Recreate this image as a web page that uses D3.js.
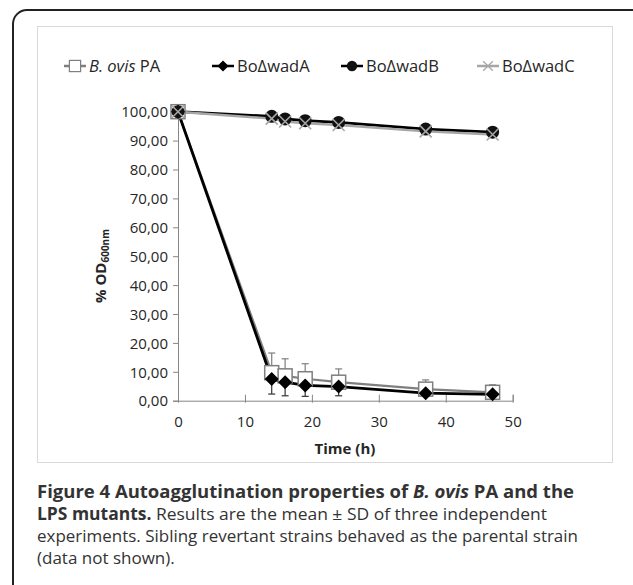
<html>
<script src='https://d3js.org/d3.v7.min.js'></script>
<style>
body {margin: 0; background: white;}
text {font-family: 'Open Sans', sans-serif;}
.tick text {font-size: 15px; fill: #262626;}
.cap {font-size: 17px; fill: #333;}
</style>
<body>
<svg width=633 height=585></svg>
<script>
// time points (h)
var time = [0, 14, 16, 19, 24, 37, 47];
var pa = [100, 9.7, 8.6, 7.6, 6.4, 4.0, 2.9];
var paSd = [0, 6.8, 5.9, 5.2, 4.6, 3.2, 2.6];
var wadA = [100, 7.5, 6.4, 5.3, 4.9, 2.6, 2.2];
var wadASd = [0, 5.2, 4.7, 3.8, 3.2, 1.0, 0.8];
var wadB = [100, 98.4, 97.5, 96.9, 96.3, 94.0, 92.9];
var wadC = [100, 97.6, 96.6, 96.0, 95.4, 93.2, 92.1];
var yTicks = [0, 10, 20, 30, 40, 50, 60, 70, 80, 90, 100];
var xTicks = [0, 10, 20, 30, 40, 50];

var svg = d3.select("svg");

// outer frame + chart box
svg.append("rect").attr("x", 13).attr("y", 10).attr("width", 660).attr("height", 620)
    .attr("rx", 14).attr("fill", "none").attr("stroke", "#222").attr("stroke-width", 2);
svg.append("rect").attr("x", 37.5).attr("y", 26.5).attr("width", 575).attr("height", 436)
    .attr("fill", "white").attr("stroke", "#d9d9d9").attr("stroke-width", 1);

var x = d3.scaleLinear().domain([0, 50]).range([178, 512.7]);
var y = d3.scaleLinear().domain([0, 100]).range([400.7, 111.7]);

// axes
var yAxis = svg.append("g").attr("transform", "translate(178,0)")
    .call(d3.axisLeft(y).tickValues(yTicks).tickSize(5).tickPadding(5)
        .tickFormat(function(d) { return d3.format(".2f")(d).replace(".", ","); }));
var xAxis = svg.append("g").attr("transform", "translate(0,400.7)")
    .call(d3.axisBottom(x).tickValues(xTicks).tickSize(-6).tickPadding(16));
svg.selectAll(".domain").attr("stroke", "#868686");
svg.selectAll(".tick line").attr("stroke", "#868686");
xAxis.selectAll(".tick line").attr("y2", -6).attr("y1", 2);
yAxis.selectAll(".tick text").attr("dy", "0.35em");

svg.append("text").attr("x", 345).attr("y", 454).attr("text-anchor", "middle")
    .attr("font-size", 15).attr("font-weight", "bold").attr("fill", "#262626").text("Time (h)");
var yt = svg.append("text").attr("transform", "translate(106,266) rotate(-90)")
    .attr("text-anchor", "middle").attr("font-size", 15).attr("font-weight", "bold").attr("fill", "#262626");
yt.append("tspan").text("% OD");
yt.append("tspan").attr("font-size", 10).attr("dy", 3).text("600nm");

var line = d3.line().x(function(d, i) { return x(time[i]); }).y(function(d) { return y(d); });

// series
var series = [
  {name: "pa", vals: pa, color: "#7f7f7f", width: 2.2},
  {name: "wadA", vals: wadA, color: "#000", width: 2.8},
  {name: "wadB", vals: wadB, color: "#000", width: 2.8},
  {name: "wadC", vals: wadC, color: "#a6a6a6", width: 2.4}
];

function marker(g, name, cx, cy) {
  if (name == "pa") {
    g.append("rect").attr("x", cx - 7).attr("y", cy - 7).attr("width", 14).attr("height", 14)
      .attr("fill", "white").attr("stroke", "#7f7f7f").attr("stroke-width", 1.5);
  } else if (name == "wadA") {
    g.append("path").attr("d", "M" + cx + "," + (cy - 7) + "L" + (cx + 7) + "," + cy + "L" + cx + "," + (cy + 7) + "L" + (cx - 7) + "," + cy + "Z")
      .attr("fill", "#000");
  } else if (name == "wadB") {
    g.append("circle").attr("cx", cx).attr("cy", cy).attr("r", 6.5).attr("fill", "#111");
  } else {
    g.append("path").attr("d", "M" + (cx - 6) + "," + (cy - 6) + "L" + (cx + 6) + "," + (cy + 6) + "M" + (cx + 6) + "," + (cy - 6) + "L" + (cx - 6) + "," + (cy + 6))
      .attr("stroke", "#a6a6a6").attr("stroke-width", 1.6);
  }
}

// error bars
function errBar(vals, sd, dir, color) {
  var g = svg.append("g").attr("stroke", color).attr("stroke-width", 1.2);
  vals.forEach(function(v, i) {
    if (sd[i] == 0) return;
    var e = v + dir * sd[i];
    g.append("line").attr("x1", x(time[i])).attr("x2", x(time[i])).attr("y1", y(v)).attr("y2", y(e));
    g.append("line").attr("x1", x(time[i]) - 3.5).attr("x2", x(time[i]) + 3.5).attr("y1", y(e)).attr("y2", y(e));
  });
}
errBar(pa, paSd, 1, "#7f7f7f");
errBar(wadA, wadASd, -1, "#333");

series.forEach(function(s) {
  svg.append("path").attr("d", line(s.vals)).attr("fill", "none")
    .attr("stroke", s.color).attr("stroke-width", s.width);
});
series.forEach(function(s) {
  var g = svg.append("g");
  s.vals.forEach(function(v, i) { marker(g, s.name, x(time[i]), y(v)); });
});

// legend
var legend = [
  {name: "pa", x: 64, color: "#7f7f7f"},
  {name: "wadA", x: 212, color: "#000"},
  {name: "wadB", x: 341, color: "#000"},
  {name: "wadC", x: 477, color: "#a6a6a6"}
];
var labels = {wadA: "BoΔwadA", wadB: "BoΔwadB", wadC: "BoΔwadC"};
legend.forEach(function(l) {
  var g = svg.append("g");
  g.append("line").attr("x1", l.x).attr("x2", l.x + 22).attr("y1", 66).attr("y2", 66)
    .attr("stroke", l.color).attr("stroke-width", 2.5);
  var m = g.append("g").attr("transform", "translate(" + (l.x + 11) + ",66) scale(0.8) translate(" + -(l.x + 11) + ",-66)");
  marker(m, l.name, l.x + 11, 66);
  var t = g.append("text").attr("x", l.x + 25).attr("y", 72).attr("font-size", 16.5).attr("fill", "#262626");
  if (l.name == "pa") {
    t.append("tspan").attr("font-style", "italic").text("B. ovis");
    t.append("tspan").text(" PA");
  } else {
    t.text(labels[l.name]);
  }
});

// caption
var c1 = svg.append("text").attr("class", "cap").attr("x", 37).attr("y", 498)
    .attr("font-weight", "bold").attr("textLength", 537).attr("lengthAdjust", "spacingAndGlyphs");
c1.append("tspan").text("Figure 4 Autoagglutination properties of ");
c1.append("tspan").attr("font-style", "italic").text("B. ovis");
c1.append("tspan").text(" PA and the");
var c2 = svg.append("text").attr("class", "cap").attr("x", 37).attr("y", 520)
    .attr("textLength", 510).attr("lengthAdjust", "spacingAndGlyphs");
c2.append("tspan").attr("font-weight", "bold").text("LPS mutants.");
c2.append("tspan").text(" Results are the mean ± SD of three independent");
svg.append("text").attr("class", "cap").attr("x", 37).attr("y", 542)
    .attr("textLength", 541).attr("lengthAdjust", "spacingAndGlyphs")
    .text("experiments. Sibling revertant strains behaved as the parental strain");
svg.append("text").attr("class", "cap").attr("x", 37).attr("y", 564)
    .text("(data not shown).");
</script>
</body>
</html>
